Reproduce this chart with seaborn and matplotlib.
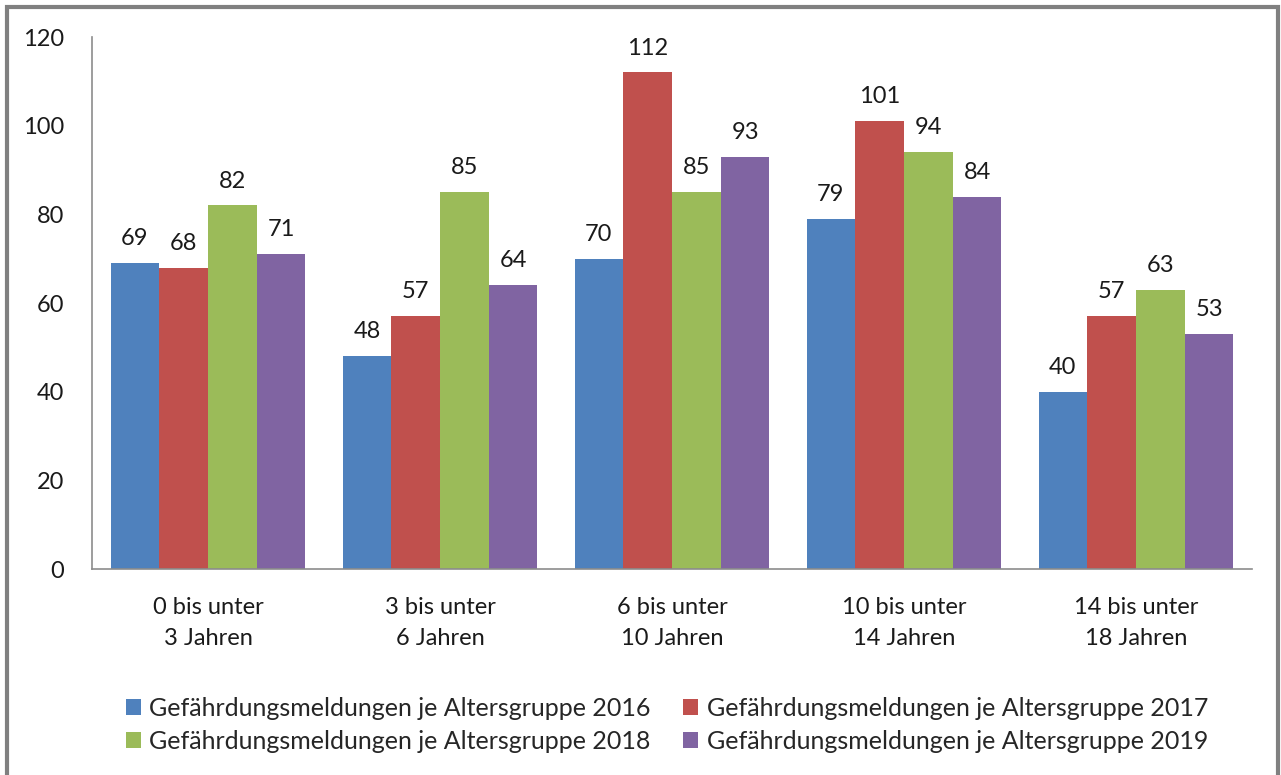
import matplotlib
matplotlib.use("Agg")
import matplotlib.pyplot as plt
import seaborn as sns
import pandas as pd
from matplotlib.patches import Rectangle

categories = ["0 bis unter\n3 Jahren", "3 bis unter\n6 Jahren", "6 bis unter\n10 Jahren",
              "10 bis unter\n14 Jahren", "14 bis unter\n18 Jahren"]
series_names = ["Gefährdungsmeldungen je Altersgruppe 2016",
                "Gefährdungsmeldungen je Altersgruppe 2017",
                "Gefährdungsmeldungen je Altersgruppe 2018",
                "Gefährdungsmeldungen je Altersgruppe 2019"]
v2016 = [69, 48, 70, 79, 40]
v2017 = [68, 57, 112, 101, 57]
v2018 = [82, 85, 85, 94, 63]
v2019 = [71, 64, 93, 84, 53]
colors = ["#4F81BD", "#C0504D", "#9BBB59", "#8064A2"]

rows = []
for name, vals in zip(series_names, [v2016, v2017, v2018, v2019]):
    for c, v in zip(categories, vals):
        rows.append({"cat": c, "series": name, "value": v})
df = pd.DataFrame(rows)

sns.set_theme(style="white")
plt.rcParams['font.family'] = ['Lato', 'DejaVu Sans']
FS = 17

fig = plt.figure(figsize=(12.81, 7.75), dpi=100)
ax = fig.add_axes([92/1281, 1-569/775, (1252-92)/1281, (569-37)/775])

sns.barplot(data=df, x="cat", y="value", hue="series", palette=colors,
            width=0.84, ax=ax, saturation=1, linewidth=0, legend=True)

for cont in ax.containers:
    ax.bar_label(cont, fmt="%d", padding=10, fontsize=FS, color="#1a1a1a")

ax.set_ylim(0, 120)
ax.set_yticks(range(0, 121, 20))
ax.set_xlim(-0.5, 4.5)
ax.set_xlabel("")
ax.set_ylabel("")
ax.tick_params(axis="y", labelsize=FS, colors="#1a1a1a", length=0, pad=20)
ax.tick_params(axis="x", labelsize=FS, colors="#1a1a1a", length=0, pad=20)
for lab in ax.get_xticklabels():
    lab.set_linespacing(1.6)
for s in ["top", "right"]:
    ax.spines[s].set_visible(False)
for s in ["left", "bottom"]:
    ax.spines[s].set_color("#8c8c8c")
    ax.spines[s].set_linewidth(1.2)

h, l = ax.get_legend_handles_labels()
ax.legend_.remove()
order = [0, 2, 1, 3]
fig.legend([h[i] for i in order], [l[i] for i in order], loc="center",
           bbox_to_anchor=(667/1281, 1-725/775), ncol=2, frameon=False,
           fontsize=18, handlelength=0.6, handleheight=0.6, handletextpad=0.35,
           columnspacing=1.3, labelspacing=0.4)

fig.patches.append(Rectangle((6.5/1281, -0.01), (1278-6.5)/1281, 1-6.5/775 + 0.01,
                             transform=fig.transFigure, fill=False, edgecolor="#808080",
                             linewidth=3, zorder=10))

fig.savefig("out.png", dpi=100)
